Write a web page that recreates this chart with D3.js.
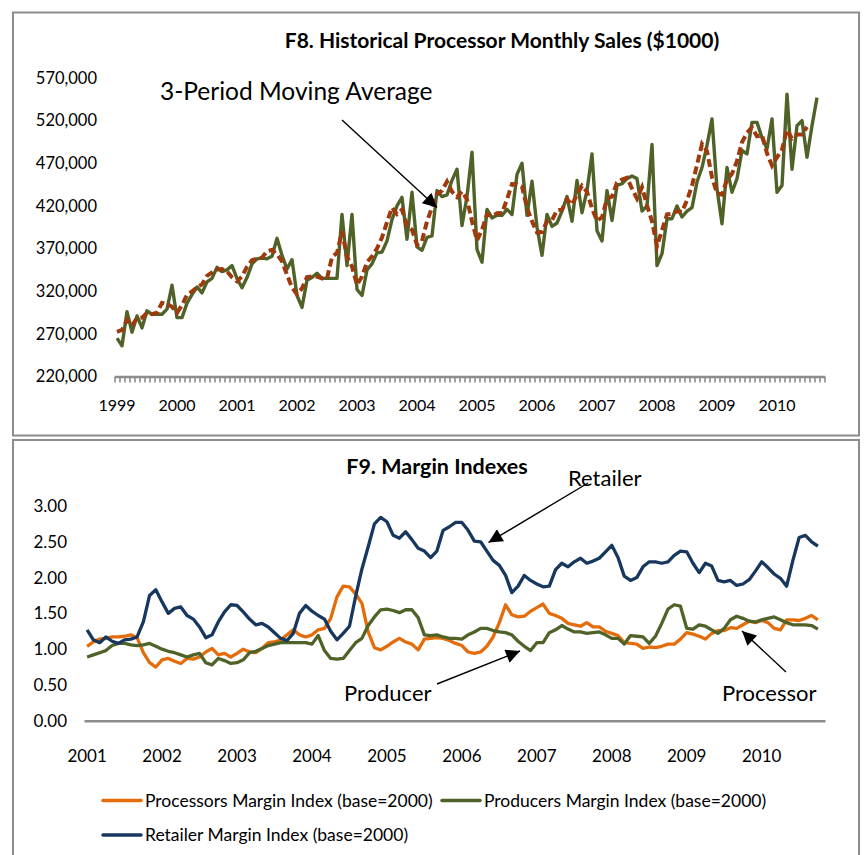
<!DOCTYPE html>
<html>
<head>
<meta charset="utf-8">
<script src="https://cdn.jsdelivr.net/npm/d3@7"></script>
<style>
  body { margin: 0; background: #fff; }
  svg { display: block; font-family: Lato, "Open Sans", sans-serif; }
</style>
</head>
<body>
<svg id="chart" width="866" height="855"></svg>
<script>
// F8: processor monthly sales, $1000, Jan 1999 .. Sep 2010
const salesYears = ["1999", "2000", "2001", "2002", "2003", "2004", "2005", "2006", "2007", "2008", "2009", "2010"];
const salesTicks = [220000, 270000, 320000, 370000, 420000, 470000, 520000, 570000];
const monthlySales = [
  265, 256, 296, 272, 291, 277, 297, 293, 293, 293, 299, 327,
  289, 289, 306, 316, 325, 318, 331, 335, 348, 343, 345, 350,
  335, 324, 336, 352, 358, 359, 358, 361, 382, 362, 346, 357,
  315, 301, 333, 336, 341, 335, 335, 335, 335, 410, 350, 410,
  322, 315, 345, 352, 365, 366, 379, 404, 420, 430, 381, 436,
  372, 368, 383, 385, 438, 431, 433, 450, 463, 397, 431, 483,
  369, 354, 416, 406, 409, 409, 416, 410, 457, 470, 409, 449,
  395, 362, 410, 396, 400, 414, 431, 402, 450, 412, 438, 481,
  391, 379, 438, 403, 444, 446, 452, 455, 452, 414, 420, 492,
  350, 364, 405, 405, 420, 407, 414, 418, 448, 465, 491, 522,
  440, 399, 465, 436, 452, 485, 481, 518, 518, 500, 487, 522,
  436, 444, 551, 463, 514, 520, 477, 514, 547
];

// F9: margin indexes (base=2000), Jan 2001 .. Oct 2010
const marginYears = ["2001", "2002", "2003", "2004", "2005", "2006", "2007", "2008", "2009", "2010"];
const marginTicks = [0, 0.5, 1, 1.5, 2, 2.5, 3];
const processorMargin = [
  1.04, 1.10, 1.14, 1.15, 1.17, 1.17, 1.18, 1.20, 1.16, 0.95, 0.81, 0.75,
  0.85, 0.87, 0.83, 0.80, 0.87, 0.86, 0.89, 0.96, 1.01, 0.92, 0.94, 0.89,
  0.94, 1.00, 0.96, 0.95, 1.01, 1.09, 1.10, 1.13, 1.20, 1.27, 1.20, 1.17,
  1.20, 1.27, 1.29, 1.43, 1.73, 1.88, 1.87, 1.77, 1.64, 1.24, 1.02, 0.99,
  1.04, 1.10, 1.15, 1.10, 1.07, 0.99, 1.14, 1.15, 1.16, 1.15, 1.12, 1.08,
  1.05, 0.96, 0.94, 0.96, 1.04, 1.17, 1.37, 1.62, 1.48, 1.45, 1.46, 1.53,
  1.58, 1.63, 1.50, 1.47, 1.43, 1.36, 1.34, 1.32, 1.37, 1.31, 1.31, 1.25,
  1.22, 1.19, 1.09, 1.08, 1.07, 1.01, 1.03, 1.02, 1.04, 1.07, 1.07, 1.14,
  1.23, 1.21, 1.18, 1.14, 1.22, 1.26, 1.26, 1.30, 1.29, 1.34, 1.39, 1.37,
  1.40, 1.37, 1.29, 1.27, 1.41, 1.41, 1.40, 1.43, 1.47, 1.41
];
const producerMargin = [
  0.89, 0.92, 0.95, 0.98, 1.05, 1.08, 1.08, 1.06, 1.05, 1.06, 1.08, 1.04,
  1.00, 0.97, 0.95, 0.92, 0.89, 0.92, 0.94, 0.81, 0.78, 0.87, 0.84, 0.80,
  0.81, 0.85, 0.95, 0.97, 1.01, 1.05, 1.07, 1.09, 1.09, 1.09, 1.09, 1.09,
  1.07, 1.19, 0.98, 0.87, 0.86, 0.87, 0.98, 1.09, 1.15, 1.33, 1.45, 1.55,
  1.56, 1.54, 1.51, 1.55, 1.55, 1.44, 1.20, 1.19, 1.20, 1.17, 1.15, 1.15,
  1.14, 1.20, 1.24, 1.29, 1.29, 1.26, 1.24, 1.23, 1.20, 1.11, 1.04, 0.98,
  1.09, 1.09, 1.23, 1.27, 1.33, 1.28, 1.24, 1.24, 1.22, 1.23, 1.24, 1.20,
  1.15, 1.15, 1.07, 1.19, 1.18, 1.17, 1.08, 1.18, 1.36, 1.56, 1.62, 1.60,
  1.29, 1.28, 1.34, 1.32, 1.27, 1.22, 1.29, 1.41, 1.46, 1.43, 1.39, 1.38,
  1.41, 1.43, 1.45, 1.41, 1.37, 1.34, 1.34, 1.34, 1.33, 1.28
];
const retailerMargin = [
  1.27, 1.13, 1.09, 1.17, 1.11, 1.08, 1.13, 1.14, 1.17, 1.38, 1.75, 1.83,
  1.66, 1.50, 1.57, 1.59, 1.47, 1.42, 1.31, 1.16, 1.20, 1.38, 1.52, 1.62,
  1.61, 1.52, 1.42, 1.34, 1.36, 1.31, 1.23, 1.15, 1.12, 1.22, 1.50, 1.61,
  1.53, 1.47, 1.42, 1.25, 1.13, 1.22, 1.32, 1.74, 2.12, 2.43, 2.75, 2.84,
  2.78, 2.59, 2.55, 2.64, 2.53, 2.41, 2.37, 2.28, 2.37, 2.66, 2.71, 2.77,
  2.77, 2.66, 2.51, 2.50, 2.37, 2.24, 2.17, 2.03, 1.79, 1.88, 2.03, 1.96,
  1.91, 1.87, 1.88, 2.11, 2.20, 2.15, 2.22, 2.27, 2.20, 2.23, 2.27, 2.36,
  2.45, 2.28, 2.02, 1.96, 2.00, 2.15, 2.22, 2.22, 2.20, 2.22, 2.31, 2.37,
  2.36, 2.20, 2.07, 2.20, 2.16, 1.96, 1.94, 1.96, 1.89, 1.91, 1.97, 2.09,
  2.22, 2.14, 2.05, 1.99, 1.88, 2.24, 2.56, 2.59, 2.50, 2.44
];
const marginSeries = [
  { name: "Processors Margin Index (base=2000)", values: processorMargin, color: "#e46c0a" },
  { name: "Producers Margin Index (base=2000)", values: producerMargin, color: "#4f6228" },
  { name: "Retailer Margin Index (base=2000)", values: retailerMargin, color: "#17375e" }
];

// 3-period moving average of the sales, plotted at the start of each window
const movingAvg = d3.range(monthlySales.length - 2)
  .map(i => d3.mean(monthlySales.slice(i, i + 3)));

const svg = d3.select("#chart");
const gray = "#8c8c8c";

// panel frames
svg.append("rect").attr("x", 13).attr("y", 12.5).attr("width", 846).attr("height", 423)
  .attr("fill", "none").attr("stroke", gray).attr("stroke-width", 2);
svg.append("rect").attr("x", 13).attr("y", 440).attr("width", 846).attr("height", 430)
  .attr("fill", "none").attr("stroke", gray).attr("stroke-width", 2);

// arrowhead
svg.append("defs").append("marker")
  .attr("id", "head").attr("viewBox", "0 0 10 10").attr("refX", 10).attr("refY", 5)
  .attr("markerWidth", 15).attr("markerHeight", 14).attr("markerUnits", "userSpaceOnUse")
  .attr("orient", "auto")
  .append("path").attr("d", "M0,0L10,5L0,10z").attr("fill", "#000");

const arrow = (x1, y1, x2, y2) => svg.append("line")
  .attr("x1", x1).attr("y1", y1).attr("x2", x2).attr("y2", y2)
  .attr("stroke", "#000").attr("stroke-width", 1.4).attr("marker-end", "url(#head)");

// ---------- F8 ----------
const xTop = d3.scaleBand().domain(d3.range(142)).range([114.5, 824.5]);
const yTop = d3.scaleLinear().domain([220000, 570000]).range([376.5, 78]);
const cx = i => xTop(i) + xTop.bandwidth() / 2;

svg.append("text").attr("x", 502).attr("y", 48).attr("text-anchor", "middle")
  .attr("font-size", 21).attr("font-weight", "bold").text("F8. Historical Processor Monthly Sales ($1000)");

const yAxisTop = svg.append("g").attr("transform", "translate(97,0)")
  .call(d3.axisLeft(yTop).tickValues(salesTicks).tickFormat(d3.format(",")).tickSize(0).tickPadding(0));
yAxisTop.select(".domain").remove();
yAxisTop.selectAll("text").attr("font-size", 16.5).attr("font-family", "Lato").attr("fill", "#000");

// category axis with a tick between every month
const combScale = d3.scaleLinear().domain([0, 142]).range([114.5, 824.5]);
const comb = svg.append("g").attr("transform", `translate(0,${yTop(220000)})`)
  .call(d3.axisBottom(combScale).tickValues(d3.range(143)).tickFormat("").tickSize(6).tickSizeOuter(0));
comb.select(".domain").attr("stroke", gray).attr("stroke-width", 2.5);
comb.selectAll(".tick line").attr("stroke", gray).attr("stroke-width", 1.6);

const yearAxisTop = svg.append("g").attr("transform", "translate(0,400)")
  .call(d3.axisBottom(xTop).tickValues(salesYears.map((d, k) => k * 12))
    .tickFormat(i => salesYears[i / 12]).tickSize(0).tickPadding(0));
yearAxisTop.select(".domain").remove();
yearAxisTop.selectAll("text").attr("font-size", 16).attr("font-family", "Lato").attr("fill", "#000");

svg.append("path").datum(monthlySales)
  .attr("fill", "none").attr("stroke", "#4f6228").attr("stroke-width", 3.4).attr("stroke-linejoin", "round")
  .attr("d", d3.line().x((d, i) => cx(i)).y(d => yTop(d * 1000)));
svg.append("path").datum(movingAvg)
  .attr("fill", "none").attr("stroke", "#9e3a0c").attr("stroke-width", 4).attr("stroke-dasharray", "8,4")
  .attr("d", d3.line().x((d, i) => cx(i)).y(d => yTop(d * 1000)));

svg.append("text").attr("x", 160).attr("y", 100).attr("font-size", 24.5).text("3-Period Moving Average");
arrow(342, 120, 437, 207.5);

// ---------- F9 ----------
const xBot = d3.scaleBand().domain(d3.range(118)).range([84, 821]);
const yBot = d3.scaleLinear().domain([0, 3]).range([720.7, 506]);
const bx = i => xBot(i) + xBot.bandwidth() / 2;

svg.append("text").attr("x", 437).attr("y", 474).attr("text-anchor", "middle")
  .attr("font-size", 21.5).attr("font-weight", "bold").text("F9. Margin Indexes");

const yAxisBot = svg.append("g").attr("transform", "translate(67,0)")
  .call(d3.axisLeft(yBot).tickValues(marginTicks).tickFormat(d3.format(".2f")).tickSize(0).tickPadding(0));
yAxisBot.select(".domain").remove();
yAxisBot.selectAll("text").attr("font-size", 17).attr("font-family", "Lato").attr("fill", "#000");

const baseScale = d3.scaleLinear().domain([0, 1]).range([84, 825]);
const baseAxis = svg.append("g").attr("transform", `translate(0,${yBot(0)})`)
  .call(d3.axisBottom(baseScale).tickValues([]).tickSizeOuter(0));
baseAxis.select(".domain").attr("stroke", gray).attr("stroke-width", 2.5);

const yearAxisBot = svg.append("g").attr("transform", "translate(0,750)")
  .call(d3.axisBottom(xBot).tickValues(marginYears.map((d, k) => k * 12))
    .tickFormat(i => marginYears[i / 12]).tickSize(0).tickPadding(0));
yearAxisBot.select(".domain").remove();
yearAxisBot.selectAll("text").attr("font-size", 17).attr("font-family", "Lato").attr("fill", "#000");

const marginLine = d3.line().x((d, i) => bx(i)).y(d => yBot(d));
marginSeries.forEach(s => {
  svg.append("path").datum(s.values)
    .attr("fill", "none").attr("stroke", s.color).attr("stroke-width", 3.3)
    .attr("stroke-linejoin", "round").attr("d", marginLine);
});

svg.append("text").attr("x", 568).attr("y", 486).attr("font-size", 22).text("Retailer");
arrow(588, 483, 488.5, 542.5);
svg.append("text").attr("x", 344).attr("y", 701).attr("font-size", 22).text("Producer");
arrow(437, 684, 520, 651);
svg.append("text").attr("x", 722).attr("y", 701).attr("font-size", 22).text("Processor");
arrow(786, 672, 742, 631);

// legend
const legendPos = [[103, 800.5], [442, 800.5], [103, 835]];
marginSeries.forEach((s, k) => {
  const [lx, ly] = legendPos[k];
  svg.append("line").attr("x1", lx).attr("x2", lx + 38).attr("y1", ly).attr("y2", ly)
    .attr("stroke", s.color).attr("stroke-width", 3.5).attr("stroke-linecap", "round");
  svg.append("text").attr("x", lx + 42).attr("y", ly + 6).attr("font-size", 17.5).text(s.name);
});
</script>
</body>
</html>
